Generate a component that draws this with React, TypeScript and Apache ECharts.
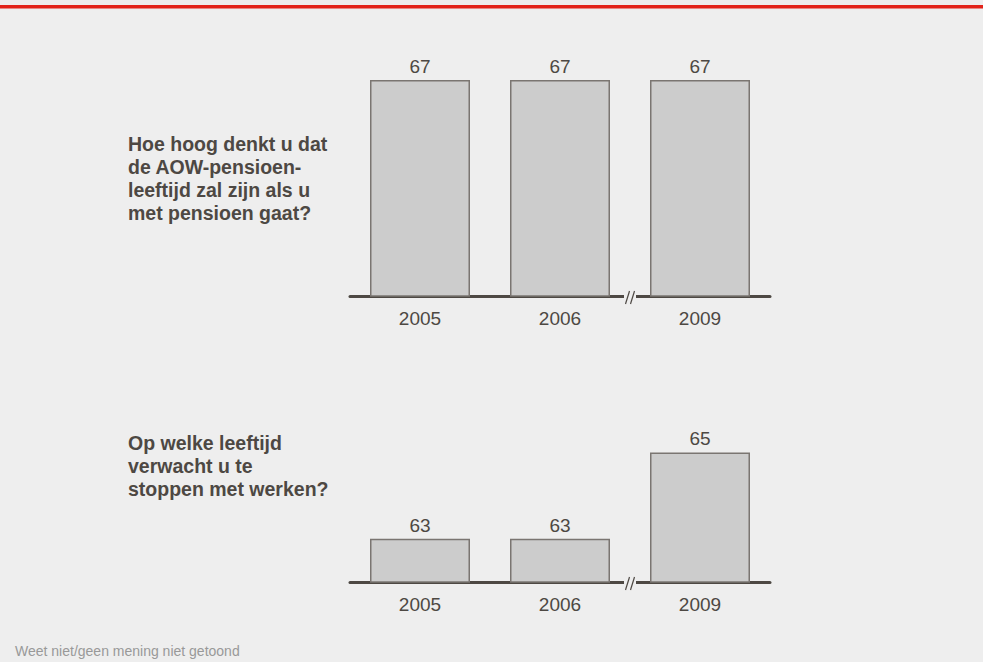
import React, { useEffect, useRef } from "react";
import * as echarts from "echarts";

const categories = ["2005", "2006", "2009"];
const pensionAgeExpected = [67, 67, 67];
const stopWorkingAge = [63, 63, 65];
const question1 = "Hoe hoog denkt u dat\nde AOW-pensioen-\nleeftijd zal zijn als u\nmet pensioen gaat?";
const question2 = "Op welke leeftijd\nverwacht u te\nstoppen met werken?";
const footnote = "Weet niet/geen mening niet getoond";

const FONT = "'Liberation Sans', Arial, Helvetica, sans-serif";
const DARK = "#4d4843";
const BG = "#eeeeee";

export default function App() {
  const ref = useRef<HTMLDivElement>(null);
  useEffect(() => {
    if (!ref.current) return;
    const chart = echarts.init(ref.current, null, { renderer: "svg" });
    const xAxisBase = (gridIndex: number) => ({
      type: "category" as const,
      gridIndex,
      data: categories,
      axisTick: { show: false },
      axisLine: { show: true, lineStyle: { color: DARK, width: 3 } },
      axisLabel: { color: DARK, fontSize: 19, fontFamily: FONT, margin: 13 },
    });
    const yAxisBase = (gridIndex: number) => ({
      type: "value" as const,
      gridIndex,
      min: 62,
      max: 67,
      show: false,
      splitLine: { show: false },
    });
    const seriesBase = (i: number, data: number[]) => ({
      type: "bar" as const,
      xAxisIndex: i,
      yAxisIndex: i,
      data,
      barWidth: 100,
      itemStyle: { color: "#cccccc", borderColor: "#7a7571", borderWidth: 1.5 },
      label: {
        show: true,
        position: "top" as const,
        distance: 4,
        color: DARK,
        fontSize: 19,
        fontFamily: FONT,
      },
    });
    const breakMark = (axisY: number) => [
      { type: "rect", shape: { x: 624, y: axisY - 3, width: 12, height: 6 }, style: { fill: BG }, z: 100 },
      { type: "line", shape: { x1: 625.5, y1: axisY + 8, x2: 629.5, y2: axisY - 5 }, style: { stroke: DARK, lineWidth: 1.2 }, z: 101 },
      { type: "line", shape: { x1: 630.5, y1: axisY + 8, x2: 634.5, y2: axisY - 5 }, style: { stroke: DARK, lineWidth: 1.2 }, z: 101 },
    ];
    chart.setOption({
      animation: false,
      backgroundColor: BG,
      grid: [
        { left: 350, width: 420, top: 80, height: 216 },
        { left: 350, width: 420, top: 366, height: 216 },
      ],
      xAxis: [xAxisBase(0), xAxisBase(1)],
      yAxis: [yAxisBase(0), yAxisBase(1)],
      series: [seriesBase(0, pensionAgeExpected), seriesBase(1, stopWorkingAge)],
      graphic: [
        { type: "rect", shape: { x: 0, y: 5, width: 983, height: 3.5 }, style: { fill: "#e2231a" } },
        {
          type: "text",
          x: 128,
          y: 132,
          style: { text: question1, font: `bold 19.5px ${FONT}`, fill: DARK, lineHeight: 23 },
        },
        {
          type: "text",
          x: 128,
          y: 431,
          style: { text: question2, font: `bold 19.5px ${FONT}`, fill: DARK, lineHeight: 23 },
        },
        {
          type: "text",
          x: 15,
          y: 644,
          style: { text: footnote, font: `14px ${FONT}`, fill: "#999999" },
        },
        ...breakMark(296),
        ...breakMark(582),
      ],
    });
    return () => chart.dispose();
  }, []);
  return (
    <div
      ref={ref}
      style={{ position: "absolute", left: 0, top: 0, width: 983, height: 662 }}
    />
  );
}
